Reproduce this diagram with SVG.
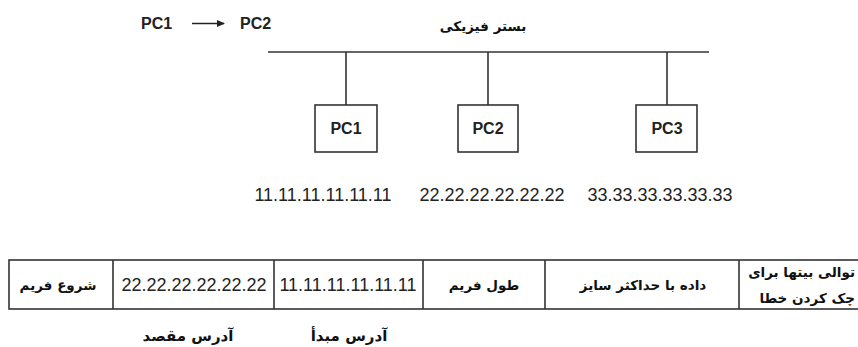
<svg xmlns="http://www.w3.org/2000/svg" width="858" height="347" viewBox="0 0 858 347">
<style>
.ln{stroke:#333;stroke-width:1.6;fill:none}
.box{stroke:#333;stroke-width:1.6;fill:#fff}
.en{font-family:"Liberation Sans",Arial,sans-serif;fill:#222}
.b{font-weight:bold;font-size:16px}
.ip{font-size:18px}
.fa{font-family:"DejaVu Sans","Noto Sans",sans-serif;fill:#111;font-weight:bold;font-size:13.5px}
</style>
<defs>
<marker id="ah" markerWidth="8" markerHeight="7" refX="7" refY="3.5" orient="auto" markerUnits="userSpaceOnUse">
<path d="M0,0 L8,3.5 L0,7 z" fill="#222"/>
</marker>
</defs>
<rect width="858" height="347" fill="#fff"/>
<g id="title">
<text class="en b" x="141" y="29">PC1</text>
<line x1="192" y1="23.5" x2="224" y2="23.5" stroke="#222" stroke-width="1.5" marker-end="url(#ah)"/>
<text class="en b" x="240" y="29">PC2</text>
<text class="fa" x="483" y="31" text-anchor="middle" direction="rtl">بستر فیزیکی</text>
</g>
<g id="connectors">
<line class="ln" x1="268" y1="52" x2="709" y2="52"/>
<line class="ln" x1="346" y1="52" x2="346" y2="105"/>
<line class="ln" x1="488" y1="52" x2="488" y2="105"/>
<line class="ln" x1="667" y1="52" x2="667" y2="105"/>
</g>
<g id="pc1">
<rect class="box" x="315" y="105" width="62" height="47"/>
<text class="en b" x="346" y="134" text-anchor="middle">PC1</text>
</g>
<g id="pc2">
<rect class="box" x="458" y="105" width="60" height="47"/>
<text class="en b" x="488" y="134" text-anchor="middle">PC2</text>
</g>
<g id="pc3">
<rect class="box" x="636" y="105" width="61" height="47"/>
<text class="en b" x="667" y="134" text-anchor="middle">PC3</text>
</g>
<g id="addresses">
<text class="en ip" x="323" y="201" text-anchor="middle">11.11.11.11.11.11</text>
<text class="en ip" x="492" y="201" text-anchor="middle">22.22.22.22.22.22</text>
<text class="en ip" x="660" y="201" text-anchor="middle">33.33.33.33.33.33</text>
</g>
<g id="frame">
<rect class="box" x="9" y="260" width="870" height="49"/>
<line class="ln" x1="113" y1="260" x2="113" y2="309"/>
<line class="ln" x1="274" y1="260" x2="274" y2="309"/>
<line class="ln" x1="423" y1="260" x2="423" y2="309"/>
<line class="ln" x1="545" y1="260" x2="545" y2="309"/>
<line class="ln" x1="739" y1="260" x2="739" y2="309"/>
<text class="fa" x="58" y="290" text-anchor="middle" direction="rtl">شروع فریم</text>
<text class="en ip" x="194" y="291" text-anchor="middle">22.22.22.22.22.22</text>
<text class="en ip" x="348" y="291" text-anchor="middle">11.11.11.11.11.11</text>
<text class="fa" x="484" y="290" text-anchor="middle" direction="rtl">طول فریم</text>
<text class="fa" x="643" y="290" text-anchor="middle" direction="rtl">داده با حداکثر سایز</text>
<text class="fa" x="855" y="277" text-anchor="start" direction="rtl">توالی بیتها برای</text>
<text class="fa" x="855" y="303" text-anchor="start" direction="rtl">چک کردن خطا</text>
</g>
<g id="labels">
<text class="fa" x="188" y="341" text-anchor="middle" direction="rtl" style="font-size:15px">آدرس مقصد</text>
<text class="fa" x="349" y="341" text-anchor="middle" direction="rtl" style="font-size:15px">آدرس مبدأ</text>
</g>
</svg>
